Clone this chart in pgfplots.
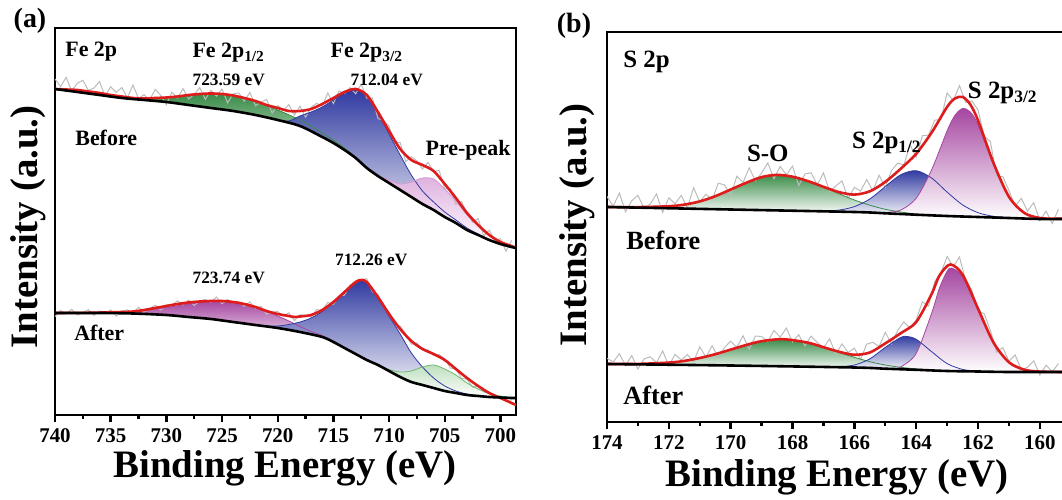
\documentclass[border=0pt]{standalone}
\usepackage{fontspec}
\setmainfont{Liberation Serif}
\usepackage{pgfplots}
\pgfplotsset{compat=1.18}

\definecolor{fitred}{RGB}{222,28,28}
\definecolor{rawgray}{RGB}{188,188,188}
\definecolor{pkgreen}{RGB}{58,140,72}
\definecolor{pkblue}{RGB}{48,58,160}
\definecolor{pkmag}{RGB}{165,70,160}
\definecolor{pkpink}{RGB}{222,175,222}
\definecolor{pkltgreen}{RGB}{110,185,110}

\pgfplotsset{
  xps/.style={
    scale only axis, anchor=south west,
    x dir=reverse,
    axis line style={line width=1.4bp},
    ytick=\empty,
    xtick pos=left,
    tick align=outside,
    major tick length=3.5bp, minor tick length=2bp,
    every tick/.style={line width=1.2bp, black},
    minor x tick num=1,
    ticklabel style={font=\fontsize{10.5}{11}\selectfont\bfseries},
    /pgf/number format/assume math mode=true,
  },
  raw/.style={rawgray, line width=0.5bp},
  fit/.style={fitred, line width=1.3bp, smooth},
  base/.style={black, line width=1.3bp, smooth},
  comp/.style={line width=0.4bp, smooth},
  peak/.style={draw=none, smooth, top color=#1, bottom color=white},
}

\begin{document}
\begin{tikzpicture}
\path[use as bounding box] (0,0) rectangle (531bp,250bp);

% ---------------- (a) Fe 2p ----------------
\begin{axis}[xps, at={(27.5bp,42.5bp)}, width=230.5bp, height=193.5bp,
  xmin=698.6, xmax=740, ymin=0, ymax=387, xtick={700,705,...,740}]

% before: component areas down to the background
\addplot[peak=pkgreen] coordinates {(735,318.5)(733,317)(731,317)(729,318)(727,320)(725.5,321)(724,319)(722,314)(720,305)(718,295)(716,282)(714,267)(712,248)(711,239)(712,247)(713,257)(714,265)(715,272)(716,278)(718,289)(720,295)(722,300)(724,304)(726,307)(728,310)(730,313)(732,315)(734,317)} --cycle;
\addplot[peak=pkblue] coordinates {(720,295)(719,294)(718,299)(717,303)(716,308)(715,315)(714,322)(713,325)(712,320)(711,302)(710,281)(709,260)(708,240)(707,224)(706,213)(705,203)(704,195)(703,187)(702,181)(701,175)(702,180)(703,185)(704,192)(705,198)(706,205)(707,211)(708,218)(709,225)(710,232)(711,239)(712,247)(713,257)(714,265)(715,272)(716,278)(718,289)} --cycle;
\addplot[peak=pkpink] coordinates {(711,240)(710,235)(709,231)(708,233)(707,237)(706,236)(705,226)(704,214)(703,200)(702,189)(701,180)(700,173)(699,169)(700,171)(701,175)(702,180)(703,185)(704,192)(705,198)(706,205)(707,211)(708,218)(709,225)(710,232)} --cycle;

\addplot[raw] coordinates {(740,336)(739.5,328.4)(739,337.7)(738.5,323.8)(738,331.6)(737.5,334.8)(737,324.5)(736.5,327)(736,333.4)(735.5,318.8)(735,328.2)(734.5,322.6)(734,327.5)(733.5,317.2)(733,330)(732.5,316.6)(732,320.3)(731.5,315)(731,325.6)(730.5,319.6)(730,310.3)(729.5,322.8)(729,316.9)(728.5,326.4)(728,316)(727.5,320.5)(727,327.4)(726.5,315.6)(726,324.7)(725.5,318.8)(725,325.8)(724.5,312.2)(724,321.1)(723.5,322.2)(723,313.8)(722.5,322.7)(722,309.2)(721.5,312.8)(721,315.6)(720.5,302.1)(720,309.4)(719.5,304.7)(719,310.4)(718.5,300)(718,308.8)(717.5,297.8)(717,307.6)(716.5,311.7)(716,308.6)(715.5,322)(715,311.4)(714.5,324)(714,321.4)(713.5,327.4)(713,321.2)(712.5,330.7)(712,316.8)(711.5,317.1)(711,296.6)(710.5,294.3)(710,288.8)(709.5,272.6)(709,272.4)(708.5,253.3)(708,258.2)(707.5,254.1)(707,246)(706.5,252.6)(706,243.2)(705.5,244.7)(705,226.2)(704.5,226.4)(704,210.6)(703.5,213.5)(703,202)(702.5,192.8)(702,196.4)(701.5,179.4)(701,184.8)(700.5,174.9)(700,176.2)(699.5,163.8)(699,174.6)};
\addplot[comp, pkgreen] coordinates {(735,318.5)(733,317)(731,317)(729,318)(727,320)(725.5,321)(724,319)(722,314)(720,305)(718,295)(716,282)(714,267)(712,248)(711,239)};
\addplot[comp, pkblue] coordinates {(720,295)(719,294)(718,299)(717,303)(716,308)(715,315)(714,322)(713,325)(712,320)(711,302)(710,281)(709,260)(708,240)(707,224)(706,213)(705,203)(704,195)(703,187)(702,181)(701,175)};
\addplot[comp, pkpink!80!pkmag] coordinates {(711,240)(710,235)(709,231)(708,233)(707,237)(706,236)(705,226)(704,214)(703,200)(702,189)(701,180)(700,173)(699,169)};
\addplot[fit] coordinates {(740,326)(739,325.5)(738,325)(737,323.5)(736,322)(735,320)(734,318.5)(733,317)(732,316.5)(731,317)(730,317.5)(729,318.5)(728,320)(727,321)(726,321.5)(725,321)(724,319.5)(723,317)(722,314)(721,310)(720,307)(719,304)(718,304)(717,306)(716,311)(715,317)(714,323)(713,326)(712,320)(711,303)(710,284)(709,266)(708,255)(707,250)(706,244)(705,231)(704,217)(703,202)(702,190)(701,180)(700,173)(699,169)(698.6,167)};
\addplot[base] coordinates {(740,326)(738,323)(736,320)(734,317)(732,315)(730,313)(728,310)(726,307)(724,304)(722,300)(720,295)(718,289)(716,278)(715,272)(714,265)(713,257)(712,247)(711,239)(710,232)(709,225)(708,218)(707,211)(706,205)(705,198)(704,192)(703,185)(702,180)(701,175)(700,171)(699,168)(698.6,167)};

% after
\addplot[peak=pkmag] coordinates {(734,102.5)(732,104.5)(730,107.5)(728,111)(727,113)(726,114)(725,114)(724,112.5)(723,110.5)(722,107.5)(721,103.5)(720,99)(719,94)(718,88.5)(717,83.5)(716,79.5)(715,73.5)(714,67)(715,73)(716,78)(718,83)(720,87)(722,90)(724,93)(726,96)(728,98)(730,100)(733,101.5)} --cycle;
\addplot[peak=pkblue] coordinates {(721,89)(720,89)(719,90.5)(718,93)(717,97)(716,103.5)(715,113)(714,123)(713,133)(712.5,135)(712,133)(711,118)(710,99)(709,81)(708,62)(707,48)(706,37)(705,29)(704,24)(703,21)(702,19)(703,20)(704,22)(705,24)(706,27)(707,30)(708,33)(709,38)(710,44)(711,50)(712,55)(713,61)(714,67)(715,73)(716,78)(718,83)(720,87)} --cycle;
\addplot[peak=pkltgreen!45] coordinates {(711,50)(710,45.5)(709,43)(708,44)(707,48)(706,50)(705,46)(704,40)(703,32)(702,26)(701,21.5)(700,19)(699,17.5)(700,17.5)(701,18)(702,19)(703,20)(704,22)(705,24)(706,27)(707,30)(708,33)(709,38)(710,44)} --cycle;

\addplot[raw] coordinates {(740,98.4)(739.5,104.4)(739,101.2)(738.5,105.6)(738,100)(737.5,102.1)(737,105.4)(736.5,99.5)(736,104.1)(735.5,101.4)(735,105.1)(734.5,98.9)(734,103.8)(733.5,105.2)(733,101.9)(732.5,107.8)(732,102.6)(731.5,106.4)(731,109.8)(730.5,104.8)(730,110.2)(729.5,109.6)(729,114.2)(728.5,109.8)(728,114.9)(727.5,109.4)(727,114.3)(726.5,115.4)(726,112.8)(725.5,118)(725,111.2)(724.5,115.5)(724,112.2)(723.5,113.2)(723,108.6)(722.5,113.1)(722,106.4)(721.5,108.8)(721,100.8)(720.5,102.9)(720,103.4)(719.5,98.8)(719,102.2)(718.5,94.4)(718,100.1)(717.5,99.8)(717,98)(716.5,105.3)(716,104.6)(715.5,112.6)(715,110.6)(714.5,119.2)(714,119.8)(713.5,130)(713,133)(712.5,135.4)(712,136.2)(711.5,123.2)(711,120.4)(710.5,109.2)(710,102.6)(709.5,89.9)(709,88.8)(708.5,81.2)(708,70.8)(707.5,72)(707,65.2)(706.5,65.1)(706,59.4)(705.5,60.4)(705,56.2)(704.5,47)(704,45.8)(703.5,36.9)(703,35.6)(702.5,27.7)(702,29)(701.5,23.2)(701,21.8)(700.5,17)(700,18.2)(699.5,14.6)(699,15)};
\addplot[comp, pkmag] coordinates {(734,102.5)(732,104.5)(730,107.5)(728,111)(727,113)(726,114)(725,114)(724,112.5)(723,110.5)(722,107.5)(721,103.5)(720,99)(719,94)(718,88.5)(717,83.5)(716,79.5)(715,73.5)(714,67)};
\addplot[comp, pkblue] coordinates {(721,89)(720,89)(719,90.5)(718,93)(717,97)(716,103.5)(715,113)(714,123)(713,133)(712.5,135)(712,133)(711,118)(710,99)(709,81)(708,62)(707,48)(706,37)(705,29)(704,24)(703,21)(702,19)};
\addplot[comp, pkltgreen] coordinates {(711,50)(710,45.5)(709,43)(708,44)(707,48)(706,50)(705,46)(704,40)(703,32)(702,26)(701,21.5)(700,19)(699,17.5)};
\addplot[fit] coordinates {(740,102)(737,102.2)(735,102.7)(734,103)(733,103.5)(732,105)(731,107)(730,109)(729,111)(728,112.5)(727,113.5)(726,114)(725,114)(724,113)(723,111)(722,108)(721,104)(720,101)(719,99)(718.5,98)(718,98.5)(717,100)(716,105)(715,113)(714,123)(713,133)(712.5,135)(712,133)(711,118)(710,101)(709,86)(708,74)(707,66)(706,61)(705,55)(704,46)(703,37)(702,29)(701,22)(700,17)(699,12)(698.6,10)};
\addplot[base] coordinates {(740,102)(736,102)(733,101.5)(730,100)(728,98)(726,96)(724,93)(722,90)(720,87)(718,83)(716,78)(715,73)(714,67)(713,61)(712,55)(711,50)(710,44)(709,38)(708,33)(707,30)(706,27)(705,24)(704,22)(703,20)(702,19)(701,18)(700,17.5)(699,17)(698.6,17)};

\begin{scope}[font=\fontsize{11}{12}\selectfont\bfseries]
\node[anchor=west] at (739.7,363) {Fe 2p};
\node at (724.4,362) {Fe 2p\textsubscript{1/2}};
\node at (712.0,362) {Fe 2p\textsubscript{3/2}};
\node[anchor=west] at (738.8,277) {Before};
\node at (702.9,265) {Pre-peak};
\node[anchor=west] at (738.9,82) {After};
\end{scope}
\begin{scope}[font=\fontsize{8.7}{10}\selectfont\bfseries]
\node at (724.4,335) {723.59 eV};
\node at (710.2,335) {712.04 eV};
\node at (724.4,137) {723.74 eV};
\node at (711.6,155) {712.26 eV};
\end{scope}
\end{axis}

% ---------------- (b) S 2p ----------------
\begin{axis}[xps, at={(303.5bp,39bp)}, width=228.5bp, height=195bp,
  xmin=159.22, xmax=174, ymin=-1, ymax=389, xtick={160,162,...,174}]

% before
\addplot[peak=pkgreen] coordinates {(173.5,213.8)(173,213.9)(172.5,214.1)(172,214.75)(171.5,216.4)(171,219.6)(170.5,224.8)(170,231.5)(169.5,238.2)(169,243.9)(168.7,246.2)(168.5,246.1)(168,244.25)(167.5,239.9)(167,234.1)(166.5,227.3)(166,221)(165.5,215.8)(165,211.7)(164.5,209)(164,206.8)(165,207.7)(166,209)(168,210.25)(170,211.5)(172,212.75)} --cycle;
\addplot[peak=pkblue] coordinates {(167,210)(166.5,210.9)(166,214.4)(165.5,222)(165,234.4)(164.5,246.3)(164,250.3)(163.5,242.9)(163,228.9)(162.5,216.1)(162,208.3)(161.5,204.7)(161,203.3)(162,204)(163,205)(164,206.3)(165,207.7)(166,209)} --cycle;
\addplot[peak=pkmag] coordinates {(165,208.4)(164.5,211)(164,222.8)(163.5,251.3)(163,290.2)(162.75,305.5)(162.5,312.5)(162.25,309)(162,296.2)(161.5,256.8)(161,223.9)(160.5,208)(160,203)(161,203)(162,204)(163,205)(164,206.3)} --cycle;

\addplot[raw] coordinates {(174,224.6)(173.8,214.7)(173.6,227.9)(173.4,209.2)(173.2,220.2)(173,225.7)(172.8,212.6)(172.6,217)(172.4,227.1)(172.2,208.6)(172,223.2)(171.8,217.2)(171.6,225.5)(171.4,213.2)(171.2,233.3)(171,219.2)(170.8,226.8)(170.6,221.2)(170.4,237.8)(170.2,236.1)(170,225.6)(169.8,244.8)(169.6,238.7)(169.4,253.2)(169.2,240.1)(169,247.9)(168.8,258.1)(168.6,242.3)(168.4,254.6)(168.2,246.2)(168,254.9)(167.8,235.5)(167.6,247)(167.4,248.2)(167.2,236)(167,248.1)(166.8,229.5)(166.6,235.1)(166.4,240.1)(166.2,222.5)(166,233.7)(165.8,229.9)(165.6,241.4)(165.4,230.1)(165.2,245.9)(165,233.2)(164.8,250.4)(164.6,257.9)(164.4,256)(164.2,276.3)(164,263.6)(163.8,285.3)(163.6,285.9)(163.4,300.9)(163.2,301.4)(163,328)(162.8,320.4)(162.6,335.4)(162.4,318.7)(162.2,320.1)(162,311.1)(161.8,284.7)(161.6,279.3)(161.4,244.6)(161.2,244.4)(161,230.4)(160.8,215)(160.6,222.7)(160.4,209.9)(160.2,218.4)(160,200.4)(159.8,209.9)(159.6,197.6)(159.4,211.8)};
\addplot[comp, pkgreen] coordinates {(173.5,213.8)(173,213.9)(172.5,214.1)(172,214.75)(171.5,216.4)(171,219.6)(170.5,224.8)(170,231.5)(169.5,238.2)(169,243.9)(168.7,246.2)(168.5,246.1)(168,244.25)(167.5,239.9)(167,234.1)(166.5,227.3)(166,221)(165.5,215.8)(165,211.7)(164.5,209)(164,206.8)};
\addplot[comp, pkblue] coordinates {(167,210)(166.5,210.9)(166,214.4)(165.5,222)(165,234.4)(164.5,246.3)(164,250.3)(163.5,242.9)(163,228.9)(162.5,216.1)(162,208.3)(161.5,204.7)(161,203.3)};
\addplot[comp, pkmag] coordinates {(165,208.4)(164.5,211)(164,222.8)(163.5,251.3)(163,290.2)(162.75,305.5)(162.5,312.5)(162.25,309)(162,296.2)(161.5,256.8)(161,223.9)(160.5,208)(160,203)};
\addplot[fit] coordinates {(174,214)(173,213.9)(172,214.75)(171.5,216.4)(171,219.6)(170.5,224.8)(170,231.5)(169.5,238.2)(169,243.9)(168.5,246.1)(168,244.3)(167.5,239.9)(167,234.2)(166.5,228.9)(166,226.4)(165.5,229.7)(165,239.1)(164.5,252.3)(164,267.3)(163.5,288.5)(163,314.1)(162.75,322.5)(162.5,324.1)(162.25,316.5)(162,300.5)(161.5,258)(161,224.2)(160.5,208)(160,203)(159.5,202.3)(159.2,202.2)};
\addplot[base] coordinates {(174,214)(170,211.5)(166,209)(165,207.7)(164,206.3)(163,205)(162,204)(161,203)(160,202)(159.2,202)};

% after
\addplot[peak=pkgreen] coordinates {(173,57.1)(172,58.4)(171.5,60.1)(171,63)(170.5,66.8)(170,71.4)(169.5,76)(169,79.8)(168.3,81.8)(167.5,78.3)(167,73.8)(166.5,68.6)(166,63.7)(165.5,59.3)(165,56)(164.5,53.7)(164,52.1)(163.5,51)(164,51.2)(165,52.3)(166,53.5)(168,54.5)(170,55.5)(172,56.2)} --cycle;
\addplot[peak=pkblue] coordinates {(166.5,54.2)(166,56)(165.5,62.1)(165,73.6)(164.5,83.6)(164.3,84.5)(164,81.7)(163.5,69.3)(163,57.4)(162.5,51.6)(162,49.8)(163,50)(164,51.2)(165,52.3)(166,53.5)} --cycle;
\addplot[peak=pkmag] coordinates {(164.75,52.3)(164.5,54.1)(164,67.6)(163.5,107.9)(163.25,132.8)(163,149.8)(162.85,152.9)(162.5,144.5)(162,112)(161.5,78.5)(161,58.7)(160.5,51.3)(160,49.4)(161,49)(162,49.5)(163,50)(164,51.2)} --cycle;

\addplot[raw] coordinates {(174,62.7)(173.8,59.1)(173.6,67.2)(173.4,55.5)(173.2,65.4)(173,52)(172.8,62.1)(172.6,64.2)(172.4,58.2)(172.2,70.1)(172,55.1)(171.8,66.6)(171.6,61)(171.4,66.4)(171.2,59.4)(171,74.1)(170.8,63.9)(170.6,75.3)(170.4,63.5)(170.2,73.5)(170,79.8)(169.8,73.5)(169.6,85.3)(169.4,71.7)(169.2,84.9)(169,84.6)(168.8,79.2)(168.6,90.6)(168.4,83.8)(168.2,92.9)(168,79)(167.8,86.3)(167.6,75)(167.4,84.9)(167.2,78.6)(167,73.2)(166.8,82.1)(166.6,66.8)(166.4,77.1)(166.2,68.5)(166,72.8)(165.8,61.5)(165.6,76.9)(165.4,78.7)(165.2,74.3)(165,88.7)(164.8,77.3)(164.6,90.5)(164.4,99.1)(164.2,92.8)(164,101.1)(163.8,119.2)(163.6,114.9)(163.4,139.6)(163.2,148.2)(163,164.5)(162.8,154.2)(162.6,164)(162.4,140.4)(162.2,130.9)(162,109.9)(161.8,107.3)(161.6,90.7)(161.4,68.9)(161.2,73.4)(161,59.9)(160.8,66.1)(160.6,51)(160.4,53.8)(160.2,60.2)(160,46.1)(159.8,55.8)(159.6,49.4)(159.4,57.4)};
\addplot[comp, pkgreen] coordinates {(173,57.1)(172,58.4)(171.5,60.1)(171,63)(170.5,66.8)(170,71.4)(169.5,76)(169,79.8)(168.3,81.8)(167.5,78.3)(167,73.8)(166.5,68.6)(166,63.7)(165.5,59.3)(165,56)(164.5,53.7)(164,52.1)(163.5,51)};
\addplot[comp, pkblue] coordinates {(166.5,54.2)(166,56)(165.5,62.1)(165,73.6)(164.5,83.6)(164.3,84.5)(164,81.7)(163.5,69.3)(163,57.4)(162.5,51.6)(162,49.8)};
\addplot[comp, pkmag] coordinates {(164.75,52.3)(164.5,54.1)(164,67.6)(163.5,107.9)(163.25,132.8)(163,149.8)(162.85,152.9)(162.5,144.5)(162,112)(161.5,78.5)(161,58.7)(160.5,51.3)(160,49.4)};
\addplot[fit] coordinates {(174,57)(173,57.1)(172,58.4)(171.5,60.1)(171,63)(170.5,66.8)(170,71.4)(169.5,76)(169,79.8)(168.3,81.8)(167.5,78.3)(167,73.8)(166.5,69.3)(166,66.2)(165.5,68.5)(165,77.6)(164.5,87.8)(164,99)(163.5,127)(163.25,145.3)(162.9,156.5)(162.5,146.3)(162,112.3)(161.5,78.5)(161,58.7)(160.5,51.3)(160,49.4)(159.2,49)};
\addplot[base] coordinates {(174,57)(170,55.5)(166,53.5)(165,52.3)(164,51.2)(163,50)(162,49.5)(161,49)(159.2,49)};

\begin{scope}[font=\fontsize{12.5}{14}\selectfont\bfseries]
\node[anchor=west] at (173.7,359) {S 2p};
\node at (168.8,268) {S-O};
\node at (164.95,278) {S 2p\textsubscript{1/2}};
\node at (161.2,328) {S 2p\textsubscript{3/2}};
\end{scope}
\begin{scope}[font=\fontsize{13.2}{15}\selectfont\bfseries]
\node[anchor=west] at (173.6,181) {Before};
\node[anchor=west] at (173.7,26) {After};
\end{scope}
\end{axis}

% panel letters and axis titles
\node[font=\fontsize{14}{16}\selectfont\bfseries] at (15bp,239.5bp) {(a)};
\node[font=\fontsize{14}{16}\selectfont\bfseries] at (287bp,237bp) {(b)};
\node[font=\fontsize{19.5}{22}\selectfont\bfseries] at (142.5bp,16bp) {Binding Energy (eV)};
\node[font=\fontsize{19.5}{22}\selectfont\bfseries] at (418.5bp,11.5bp) {Binding Energy (eV)};
\node[font=\fontsize{19.5}{22}\selectfont\bfseries, rotate=90] at (14bp,136.5bp) {Intensity (a.u.)};
\node[font=\fontsize{19.5}{22}\selectfont\bfseries, rotate=90] at (288.5bp,137.5bp) {Intensity (a.u.)};
\end{tikzpicture}
\end{document}
